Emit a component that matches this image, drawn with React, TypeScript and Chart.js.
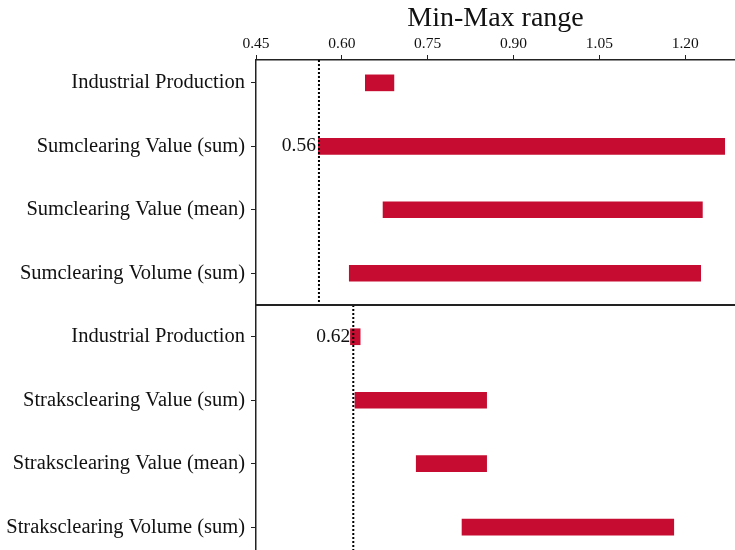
import React, { useEffect, useRef } from "react";
import { Chart, registerables } from "chart.js";

Chart.register(...registerables);

const categories = [
  "Industrial Production",
  "Sumclearing Value (sum)",
  "Sumclearing Value (mean)",
  "Sumclearing Volume (sum)",
  "Industrial Production",
  "Straksclearing Value (sum)",
  "Straksclearing Value (mean)",
  "Straksclearing Volume (sum)",
];
const rangeMin = [0.641, 0.559, 0.672, 0.613, 0.615, 0.623, 0.73, 0.81];
const rangeMax = [0.691, 1.269, 1.23, 1.227, 0.632, 0.853, 0.853, 1.18];
const xTicks = [0.45, 0.6, 0.75, 0.9, 1.05, 1.2];
const groupMinima = [0.56, 0.62];
const groupFirstRow = [0, 4];
const groupLastRow = [3, 7];
const axisTitle = "Min-Max range";

const FONT = "'Liberation Serif', 'DejaVu Serif', serif";

export default function App() {
  const ref = useRef<HTMLCanvasElement | null>(null);

  useEffect(() => {
    document.body.style.margin = "0";
    const canvas = ref.current!;
    const overlay = {
      id: "overlay",
      afterDatasetsDraw(chart: any) {
        const ctx = chart.ctx;
        const xs = chart.scales.x;
        const ys = chart.scales.y;
        const area = chart.chartArea;
        ctx.save();
        groupMinima.forEach((v, g) => {
          const px = xs.getPixelForValue(v);
          const top = g === 0 ? area.top : ys.getPixelForValue(groupFirstRow[g] - 0.5);
          const bottom =
            g === groupMinima.length - 1 ? area.bottom : ys.getPixelForValue(groupLastRow[g] + 0.5);
          ctx.beginPath();
          ctx.setLineDash([2, 2]);
          ctx.lineWidth = 2;
          ctx.strokeStyle = "#000";
          ctx.moveTo(px, top);
          ctx.lineTo(px, bottom);
          ctx.stroke();
          ctx.setLineDash([]);
          let row = groupFirstRow[g];
          let best = Infinity;
          for (let i = groupFirstRow[g]; i <= groupLastRow[g]; i++) {
            if (rangeMin[i] < best) {
              best = rangeMin[i];
              row = i;
            }
          }
          ctx.fillStyle = "#111";
          ctx.font = `19.5px ${FONT}`;
          ctx.textAlign = "right";
          ctx.textBaseline = "middle";
          ctx.fillText(v.toFixed(2), px - 3, ys.getPixelForValue(row));
        });
        const sy = ys.getPixelForValue(3.5);
        ctx.beginPath();
        ctx.lineWidth = 2;
        ctx.strokeStyle = "#222";
        ctx.moveTo(area.left, sy);
        ctx.lineTo(area.right, sy);
        ctx.stroke();
        ctx.restore();
      },
    };

    const chart = new Chart(canvas, {
      type: "bar",
      data: {
        datasets: [
          {
            data: categories.map((_, i) => ({ x: [rangeMin[i], rangeMax[i]], y: i })) as any,
            backgroundColor: "rgb(198,12,48)",
            borderWidth: 0,
            barThickness: 16,
          },
        ],
      },
      options: {
        indexAxis: "y",
        animation: false,
        responsive: false,
        maintainAspectRatio: false,
        layout: { padding: { left: 0, right: 0, top: 0, bottom: 0 } },
        plugins: { legend: { display: false }, tooltip: { enabled: false } },
        scales: {
          x: {
            type: "linear",
            position: "top",
            min: 0.45,
            max: 1.287,
            afterBuildTicks: (s: any) => {
              s.ticks = xTicks.map((v) => ({ value: v }));
            },
            afterFit: (s: any) => {
              s.height = 60;
              s.paddingRight = 0;
            },
            ticks: {
              font: { family: FONT, size: 15.5 },
              color: "#111",
              padding: 2,
              callback: (v: any) => Number(v).toFixed(2),
            },
            grid: { display: true, drawOnChartArea: false, drawTicks: true, tickLength: 5, color: "#222" },
            border: { display: true, color: "#222", width: 1.5 },
            title: {
              display: true,
              text: axisTitle,
              font: { family: FONT, size: 28 },
              color: "#111",
              padding: { top: 2, bottom: 0 },
            },
          },
          y: {
            type: "linear",
            reverse: true,
            offset: false,
            min: -0.36,
            max: 7.36,
            afterBuildTicks: (s: any) => {
              s.ticks = categories.map((_, i) => ({ value: i }));
            },
            afterFit: (s: any) => {
              s.width = 256;
              s.paddingTop = 0;
              s.paddingBottom = 0;
            },
            ticks: {
              font: { family: FONT, size: 20.5 },
              color: "#111",
              padding: 6,
              callback: (v: any) => categories[Math.round(Number(v))] ?? "",
            },
            grid: {
              display: true,
              offset: false,
              drawOnChartArea: false,
              drawTicks: true,
              tickLength: 5,
              color: "#222",
            },
            border: { display: true, color: "#222", width: 1.5 },
          },
        },
      },
      plugins: [overlay],
    });
    return () => chart.destroy();
  }, []);

  return (
    <div style={{ width: 735, height: 550 }}>
      <canvas ref={ref} width={735} height={550} style={{ display: "block" }} />
    </div>
  );
}
